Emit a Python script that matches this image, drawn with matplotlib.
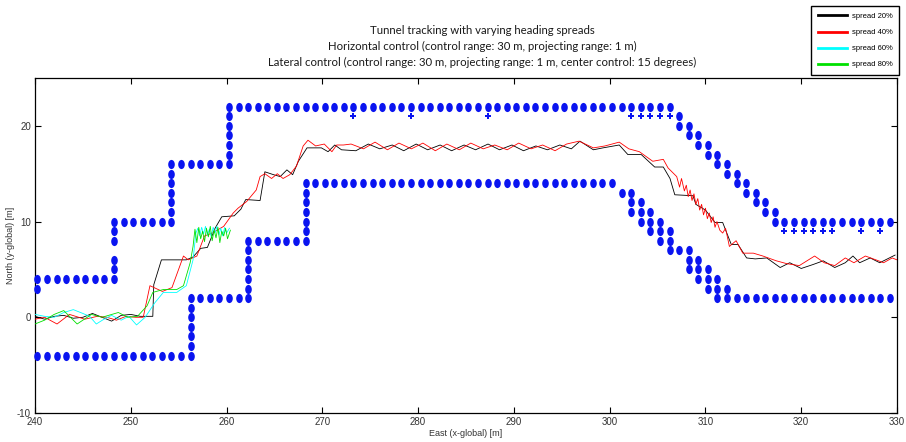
"""Tunnel tracking run: vehicle paths for four heading spreads between the tunnel walls."""

import matplotlib
from matplotlib import font_manager

matplotlib.use("Agg")
from matplotlib import pyplot as plt
from matplotlib.lines import Line2D
from matplotlib.path import Path
from matplotlib.transforms import Affine2D

# wall cells (m); the cell centre sits a quarter metre east of the grid index
CELL_SHIFT = 0.25

upper_wall_x = [
    240, 241, 242, 243, 244, 245, 246, 247, 248, 240,
    248, 248, 248, 248, 248,
    249, 250, 251, 252, 253, 254,
    254, 254, 254, 254, 254, 254,
    255, 256, 257, 258, 259, 260,
    260, 260, 260, 260, 260, 260,
    261, 262, 263, 264, 265, 266, 267, 268, 269, 270, 271, 272, 273, 274, 275,
    276, 277, 278, 279, 280, 281, 282, 283, 284, 285, 286, 287, 288, 289, 290,
    291, 292, 293, 294, 295, 296, 297, 298, 299, 300, 301, 302, 303, 304, 305, 306,
    307, 307, 308, 308, 309, 309, 310, 310, 311, 311, 312, 312, 313, 313,
    314, 314, 315, 315, 316, 316, 317, 317,
    318, 319, 320, 321, 322, 323, 324, 325, 326, 327, 328, 329,
]
upper_wall_y = [
    4, 4, 4, 4, 4, 4, 4, 4, 4, 3,
    5, 6, 8, 9, 10,
    10, 10, 10, 10, 10, 10,
    11, 12, 13, 14, 15, 16,
    16, 16, 16, 16, 16, 16,
    17, 18, 19, 20, 21, 22,
    22, 22, 22, 22, 22, 22, 22, 22, 22, 22, 22, 22, 22, 22, 22,
    22, 22, 22, 22, 22, 22, 22, 22, 22, 22, 22, 22, 22, 22, 22,
    22, 22, 22, 22, 22, 22, 22, 22, 22, 22, 22, 22, 22, 22, 22, 22,
    21, 20, 20, 19, 19, 18, 18, 17, 17, 16, 16, 15, 15, 14,
    14, 13, 13, 12, 12, 11, 11, 10,
    10, 10, 10, 10, 10, 10, 10, 10, 10, 10, 10, 10,
]

lower_wall_x = [
    240, 241, 242, 243, 244, 245, 246, 247, 248, 249, 250, 251, 252, 253, 254, 255,
    256, 256, 256, 256, 256, 256, 256,
    257, 258, 259, 260, 261, 262,
    262, 262, 262, 262, 262, 262,
    263, 264, 265, 266, 267, 268,
    268, 268, 268, 268, 268, 268,
    269, 270, 271, 272, 273, 274, 275, 276, 277, 278, 279, 280, 281, 282, 283, 284,
    285, 286, 287, 288, 289, 290, 291, 292, 293, 294, 295, 296, 297, 298, 299, 300,
    301, 302, 302, 303, 302, 303, 304, 303, 304, 305, 304, 305, 306, 305, 306,
    306, 307, 308, 308, 309, 308, 309, 310, 309, 310, 311, 310, 311, 312,
    311, 312, 313, 314, 315, 316, 317, 318, 319, 320, 321, 322, 323, 324, 325,
    326, 327, 328, 329,
]
lower_wall_y = [
    -4, -4, -4, -4, -4, -4, -4, -4, -4, -4, -4, -4, -4, -4, -4, -4,
    -4, -3, -2, -1, 0, 1, 2,
    2, 2, 2, 2, 2, 2,
    3, 4, 5, 6, 7, 8,
    8, 8, 8, 8, 8, 8,
    9, 10, 11, 12, 13, 14,
    14, 14, 14, 14, 14, 14, 14, 14, 14, 14, 14, 14, 14, 14, 14, 14,
    14, 14, 14, 14, 14, 14, 14, 14, 14, 14, 14, 14, 14, 14, 14, 14,
    13, 13, 12, 12, 11, 11, 11, 10, 10, 10, 9, 9, 9, 8, 8,
    7, 7, 7, 6, 6, 5, 5, 5, 4, 4, 4, 3, 3, 3,
    2, 2, 2, 2, 2, 2, 2, 2, 2, 2, 2, 2, 2, 2, 2,
    2, 2, 2, 2,
]

# secondary wall hits (smaller markers)
extra_wall_x = [273, 279, 287, 302, 303, 304, 305, 306, 318, 319, 320, 321, 322, 323, 326, 328]
extra_wall_y = [21, 21, 21, 21, 21, 21, 21, 21, 9, 9, 9, 9, 9, 9, 9, 9]

spread_labels = ["spread 20%", "spread 40%", "spread 60%", "spread 80%"]

spread20_x = [
    240.0, 241.0, 242.0, 243.0, 244.0, 245.0, 246.0, 247.0, 248.0, 249.0, 250.0, 251.0,
    252.3, 252.4, 253.2, 255.8, 256.5, 257.3, 258.0, 258.8, 259.5, 260.8, 261.5, 262.0,
    263.5, 264.0, 264.9, 265.6, 266.3, 266.9, 267.5, 268.4, 269.9, 270.6, 271.3, 272.0,
    273.5, 274.8, 276.0, 277.3, 278.5, 279.8, 281.0, 282.3, 283.5, 284.8, 286.0, 287.3,
    288.5, 289.8, 291.0, 292.3, 293.5, 294.8, 296.0, 296.9, 298.3, 299.3, 301.0, 301.9,
    303.3, 304.7, 305.6, 306.3, 306.8, 308.7, 309.0, 310.0, 311.0, 311.8, 312.7, 313.4,
    314.3, 315.2, 316.4, 317.8, 318.8, 320.0, 321.2, 322.3, 323.5, 324.6, 325.4, 326.1,
    327.2, 328.2, 329.8,
]
spread20_y = [
    0.1, -0.2, 0.1, 0.2, -0.1, 0.0, 0.4, 0.0, -0.4, 0.2, 0.3, 0.1,
    0.1, 3.4, 6.0, 6.0, 6.3, 7.2, 7.3, 9.3, 10.5, 10.6, 11.3, 12.3,
    12.2, 15.2, 14.9, 14.7, 15.4, 14.9, 16.3, 17.7, 17.7, 17.3, 18.0, 17.5,
    17.4, 18.1, 17.6, 18.0, 17.4, 18.1, 17.5, 18.0, 17.4, 18.0, 17.5, 18.1,
    17.5, 18.0, 17.4, 17.9, 17.5, 18.0, 17.6, 18.4, 17.5, 17.7, 18.0, 17.0,
    17.0, 15.7, 15.7, 14.5, 12.8, 12.7, 11.8, 11.2, 9.9, 9.9, 7.6, 7.6,
    6.2, 6.1, 6.2, 5.2, 5.7, 5.1, 5.5, 5.9, 5.2, 5.7, 6.4, 5.7,
    6.2, 5.7, 6.5,
]

spread40_x = [
    240.0, 241.0, 242.3, 243.6, 245.2, 246.5, 247.5, 248.5, 249.5, 250.5, 251.3, 252.0,
    253.3, 254.3, 255.5, 256.0, 256.9, 257.7, 258.5, 259.7, 260.7, 261.2, 262.1, 263.1,
    263.5, 264.0, 264.7, 265.3, 265.9, 266.6, 267.3, 268.0, 268.5, 269.3, 270.2, 271.0,
    271.5, 272.2, 273.0, 274.3, 275.5, 276.8, 278.0, 279.3, 280.5, 281.8, 283.0, 284.3,
    285.5, 286.8, 288.0, 289.3, 290.5, 291.8, 293.0, 294.3, 295.5, 296.8, 298.3, 299.5,
    301.0, 302.0, 303.1, 304.5, 305.6, 306.1, 307.0, 307.3, 307.5, 307.8, 308.0, 308.2,
    308.4, 308.6, 308.8, 309.0, 309.2, 309.4, 309.6, 309.8, 310.0, 310.2, 310.4, 310.6,
    310.8, 311.0, 311.2, 311.5, 311.8, 312.1, 312.5, 313.2, 313.9, 315.0, 316.0, 317.4,
    318.5, 319.8, 321.4, 322.4, 323.5, 324.6, 325.5, 326.7, 327.8, 328.6, 329.5, 330.0,
]
spread40_y = [
    -0.2, 0.0, -0.7, 0.3, -0.2, 0.1, 0.0, -0.3, 0.1, 0.0, 0.0, 3.3,
    2.7, 3.1, 6.4, 6.0, 6.4, 8.5, 8.8, 9.5, 10.9, 11.4, 12.1, 13.3,
    14.7, 15.0, 14.5, 15.0, 14.5, 14.9, 15.8, 17.9, 18.5, 17.9, 18.1, 17.3,
    18.0, 18.0, 18.1, 17.6, 18.3, 17.5, 18.2, 17.6, 18.2, 17.4, 18.1, 17.5,
    18.2, 17.6, 18.0, 17.5, 18.2, 17.6, 18.0, 17.4, 18.1, 18.4, 17.7, 17.9,
    18.3, 17.6, 17.3, 16.3, 16.5, 15.6, 14.7, 13.6, 14.5, 13.2, 13.8, 12.6,
    13.3, 12.2, 12.9, 11.8, 12.4, 11.2, 11.8, 10.7, 11.4, 10.3, 10.9, 9.9,
    10.5, 9.4, 10.0, 9.1, 8.8, 9.3, 7.4, 8.0, 6.7, 6.7, 6.4, 5.9,
    5.6, 5.4, 6.4, 5.7, 5.4, 6.2, 5.7, 6.4, 6.0, 5.7, 6.2, 6.0,
]

spread60_x = [
    240.0, 241.0, 242.0, 243.0, 244.0, 245.0, 245.7, 246.4, 247.2, 248.0, 249.0, 249.8,
    250.6, 251.5, 252.5, 253.4, 254.8, 255.8, 256.5, 256.8, 257.0, 257.2, 257.4, 257.6,
    257.8, 258.0, 258.2, 258.4, 258.6, 258.8, 259.0, 259.2, 259.4, 259.6, 259.8, 260.0,
    260.3,
]
spread60_y = [
    0.3, 0.1, 0.0, 0.5, 0.8, 0.4, 0.1, -0.7, -0.2, 0.2, -0.3, 0.1,
    -0.8, 0.0, 1.5, 2.6, 2.6, 3.3, 6.0, 8.8, 9.3, 8.5, 9.4, 8.7,
    9.5, 8.6, 9.2, 8.4, 9.4, 8.8, 9.5, 8.6, 9.3, 8.5, 9.4, 8.8,
    9.3,
]

spread80_x = [
    240.0, 241.0, 242.0, 243.0, 244.4, 245.9, 247.0, 248.7, 249.7, 250.7, 251.7, 252.3,
    253.4, 254.8, 255.5, 256.2, 256.5, 256.7, 256.9, 257.1, 257.3, 257.5, 257.7, 257.9,
    258.1, 258.3, 258.5, 258.7, 258.9, 259.1, 259.3, 259.5, 259.7, 259.9, 260.1, 260.4,
]
spread80_y = [
    -0.7, -0.3, 0.3, 0.7, -0.7, 0.3, 0.0, 0.5, 0.0, 0.1, 1.2, 2.6,
    2.9, 2.9, 3.3, 5.7, 7.4, 9.2, 7.8, 9.4, 8.2, 9.0, 7.9, 9.3,
    8.4, 9.5, 8.0, 9.1, 8.3, 9.4, 7.8, 9.0, 8.5, 9.3, 8.2, 9.1,
]

x_ticks = [240, 250, 260, 270, 280, 290, 300, 310, 320, 330]
y_ticks = [-10, 0, 10, 20]

title_lines = [
    "Tunnel tracking with varying heading spreads",
    "Horizontal control (control range: 30 m, projecting range: 1 m)",
    "Lateral control (control range: 30 m, projecting range: 1 m, center control: 15 degrees)",
]


def _pick_font(*names: str) -> str:
    installed = {entry.name for entry in font_manager.fontManager.ttflist}
    for name in names:
        if name in installed:
            return name
    return "DejaVu Sans"


narrow = _pick_font("Liberation Sans Narrow", "Liberation Sans")
title_font = _pick_font("Lato", "Open Sans")
plt.rcParams["axes.unicode_minus"] = False

# upright oval for the wall hits
oval = Affine2D().scale(0.72, 1.0).transform_path(Path.unit_circle())

fig = plt.figure(figsize=(9.06, 4.42), dpi=100)
ax = fig.add_axes((35 / 906, 1 - 413 / 442, 862 / 906, 335 / 442))

wall_style = dict(linestyle="none", color="#0a14f0", markeredgewidth=0, clip_on=False, zorder=3)
ax.plot([x + CELL_SHIFT for x in upper_wall_x], upper_wall_y, marker=oval, markersize=6.6, **wall_style)
ax.plot([x + CELL_SHIFT for x in lower_wall_x], lower_wall_y, marker=oval, markersize=6.6, **wall_style)
ax.plot([x + CELL_SHIFT for x in extra_wall_x], extra_wall_y, marker="P", markersize=4.8, **wall_style)

colors = ["black", "red", "cyan", "#00e000"]
paths = [
    (spread20_x, spread20_y),
    (spread40_x, spread40_y),
    (spread60_x, spread60_y),
    (spread80_x, spread80_y),
]
for (xs, ys), color in zip(paths, colors):
    ax.plot(xs, ys, color=color, linewidth=0.6, zorder=4)

ax.set_xlim(240, 330)
ax.set_ylim(-10, 25)
ax.set_xticks(x_ticks)
ax.set_yticks(y_ticks)
ax.tick_params(direction="in", length=4, width=0.8, top=True, right=True, labelsize=7,
               labelcolor="#333333")
ax.tick_params(axis="x", pad=3)
ax.tick_params(axis="y", pad=3)
for label in ax.get_xticklabels() + ax.get_yticklabels():
    label.set_fontfamily(narrow)
for spine in ax.spines.values():
    spine.set_linewidth(0.9)
ax.set_xlabel("East (x-global) [m]", fontsize=6.5, family=narrow, color="#333333", labelpad=1)
ax.set_ylabel("North (y-global) [m]", fontsize=6.5, family=narrow, color="#333333", labelpad=1)

for row, line in enumerate(title_lines):
    fig.text(482 / 906, 1 - (31 + 15.5 * row) / 442, line, ha="center", va="center",
             fontsize=8.2, family=title_font, color="#1a1a1a")

handles = [Line2D([], [], color=color, linewidth=2.0) for color in colors]
fig.legend(handles, spread_labels, loc="upper right", bbox_to_anchor=(903 / 906, 1 - 2 / 442),
           fancybox=False, edgecolor="black", framealpha=1,
           prop={"family": narrow, "size": 5.5}, handlelength=3.8, labelspacing=1.15,
           borderpad=0.9, handletextpad=0.6)

fig.savefig("out.png", dpi=100)
plt.close(fig)
